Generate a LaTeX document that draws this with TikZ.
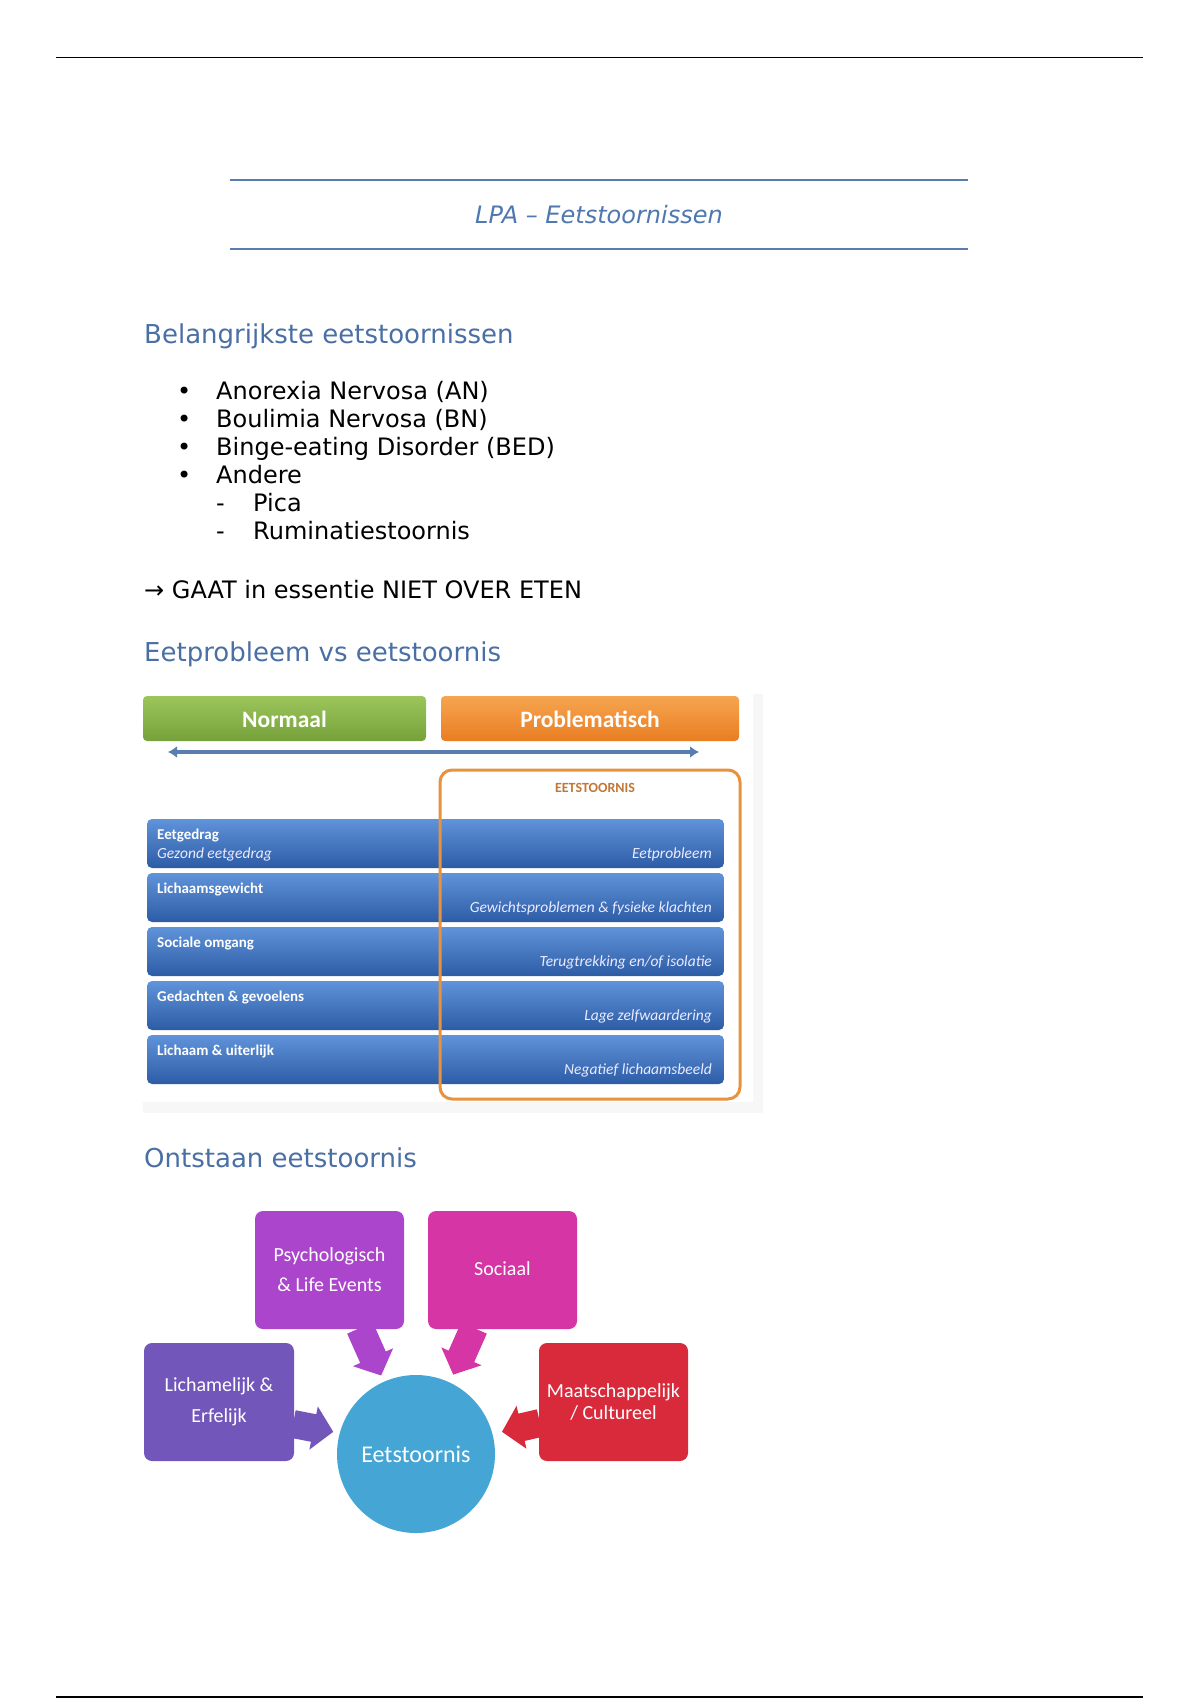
\documentclass[tikz,border=0pt]{standalone}
\usepackage{fontspec}
\setmainfont{DejaVu Sans}
\newfontfamily\calfont{Carlito}
\usetikzlibrary{arrows.meta}
\definecolor{hblue}{HTML}{4A6FA5}
\definecolor{tblue}{HTML}{4F78B0}
\definecolor{lineblue}{HTML}{5A7DAF}
\definecolor{grtop}{HTML}{9CC65C}
\definecolor{grbot}{HTML}{76A13A}
\definecolor{ortop}{HTML}{F6A550}
\definecolor{orbot}{HTML}{E97D22}
\definecolor{bartop}{HTML}{5F93DA}
\definecolor{barbot}{HTML}{2D5CA5}
\definecolor{orframe}{HTML}{E8923E}
\definecolor{eetlbl}{HTML}{C07838}
\definecolor{psych}{HTML}{AB45CC}
\definecolor{soc}{HTML}{D535A5}
\definecolor{lich}{HTML}{7356BA}
\definecolor{maat}{HTML}{D82A3A}
\definecolor{circ}{HTML}{45A6D6}
\newcommand\fatarr[4]{%
  \begin{scope}[shift={#1},rotate=#2]
    \fill[#4] (0,-14) -- (#3-20,-14) -- (#3-20,-22) -- (#3,0) -- (#3-20,22) -- (#3-20,14) -- (0,14) -- cycle;
  \end{scope}}
\tikzset{
  body/.style={anchor=base west,inner sep=0,font=\fontsize{24pt}{28pt}\selectfont},
  head/.style={anchor=base west,inner sep=0,text=hblue,font=\fontsize{26pt}{30pt}\selectfont},
  bartext/.style={inner sep=0,text=white,font=\calfont\bfseries\fontsize{15pt}{17pt}\selectfont},
  barright/.style={anchor=base east,inner sep=0,text=white!92!blue,font=\calfont\itshape\fontsize{15.5pt}{17pt}\selectfont},
  catbox/.style={rounded corners=8pt,inner sep=0,text=white,align=center,font=\calfont\fontsize{20pt}{30pt}\selectfont}
}
\begin{document}
\begin{tikzpicture}[x=1pt,y=-1pt]
\useasboundingbox (0,0) rectangle (1200,1700);
\fill[white] (0,0) rectangle (1200,1700);
% page rules
\coordinate (tl) at (56,57.5); \coordinate (tr) at (1143,57.5);
\draw[line width=1.5pt,black] (tl) -- (tr);
\coordinate (bl) at (56,1697); \coordinate (br) at (1143,1697);
\draw[line width=1.5pt,black] (bl) -- (br);
% title
\coordinate (t1a) at (230,180); \coordinate (t1b) at (968,180);
\coordinate (t2a) at (230,249); \coordinate (t2b) at (968,249);
\draw[line width=1.6pt,lineblue] (t1a) -- (t1b);
\draw[line width=1.6pt,lineblue] (t2a) -- (t2b);
\node[anchor=base,inner sep=0,text=tblue,font=\itshape\fontsize{24pt}{28pt}\selectfont] (title) at (599,223) {LPA – Eetstoornissen};
% section 1
\node[head] (h1) at (144,343) {Belangrijkste eetstoornissen};
\node[body] (b1) at (177,399) {•}; \node[body] (l1) at (216,399) {Anorexia Nervosa (AN)};
\node[body] (b2) at (177,427) {•}; \node[body] (l2) at (216,427) {Boulimia Nervosa (BN)};
\node[body] (b3) at (177,455) {•}; \node[body] (l3) at (216,455) {Binge-eating Disorder (BED)};
\node[body] (b4) at (177,483) {•}; \node[body] (l4) at (216,483) {Andere};
\node[body] (d1) at (216,511) {-}; \node[body] (l5) at (253,511) {Pica};
\node[body] (d2) at (216,539) {-}; \node[body] (l6) at (253,539) {Ruminatiestoornis};
\node[body] (gaat) at (144,598) {→ GAAT in essentie NIET OVER ETEN};
% section 2
\node[head] (h2) at (144,661) {Eetprobleem vs eetstoornis};
\fill[black!3] (143,694) rectangle (763,1113);
\fill[white] (143,694) rectangle (753,1102);
\shade[rounded corners=4pt,top color=grtop,bottom color=grbot] (143,696) rectangle (426,741);
\node[inner sep=0,text=white,font=\calfont\bfseries\fontsize{23.5pt}{26pt}\selectfont] (norm) at (284.5,719) {Normaal};
\shade[rounded corners=4pt,top color=ortop,bottom color=orbot] (441,696) rectangle (739,741);
\node[inner sep=0,text=white,font=\calfont\bfseries\fontsize{23.5pt}{26pt}\selectfont] (prob) at (590,719) {Problematisch};
\coordinate (al) at (168,752); \coordinate (ar) at (699,752);
\draw[line width=3.5pt,lineblue,{Latex[length=9pt,width=12pt]}-{Latex[length=9pt,width=12pt]}] (al) -- (ar);
\foreach \t/\a/\b in {819/{Eetgedrag}/{Eetprobleem},873/{Lichaamsgewicht}/{Gewichtsproblemen \& fysieke klachten},927/{Sociale omgang}/{Terugtrekking en/of isolatie},981/{Gedachten \& gevoelens}/{Lage zelfwaardering},1035/{Lichaam \& uiterlijk}/{Negatief lichaamsbeeld}}{
  \shade[rounded corners=5pt,top color=bartop,bottom color=barbot] (147,\t) rectangle (724,\t+49);
  \node[bartext,anchor=base west] at (157,\t+20) {\a};
  \node[barright] at (712,\t+39) {\b};
}
\node[barright,anchor=base west] (gez) at (157,858) {Gezond eetgedrag};
\draw[line width=3pt,orframe,rounded corners=12pt] (440,770) rectangle (740,1099);
\node[inner sep=0,text=eetlbl,font=\calfont\bfseries\fontsize{14pt}{16pt}\selectfont] (eet) at (595,788) {EETSTOORNIS};
% section 3
\node[head] (h3) at (144,1167) {Ontstaan eetstoornis};
\node[catbox,fill=psych,minimum width=149pt,minimum height=118pt] (ps) at (329.5,1270) {Psychologisch\\\& Life Events};
\node[catbox,fill=soc,minimum width=149pt,minimum height=118pt] (so) at (502.5,1270) {\raisebox{2pt}{Sociaal}};
\node[catbox,fill=lich,minimum width=150pt,minimum height=118pt,font=\calfont\fontsize{20pt}{31pt}\selectfont] (li) at (219,1402) {Lichamelijk \&\\Erfelijk};
\node[catbox,fill=maat,minimum width=149pt,minimum height=118pt,font=\calfont\fontsize{20pt}{22pt}\selectfont] (ma) at (613.5,1402) {Maatschappelijk\\/ Cultureel};
\node[circle,fill=circ,minimum size=158pt,inner sep=0,text=white,font=\calfont\fontsize{24pt}{28pt}\selectfont] (ee) at (416,1454) {Eetstoornis};
\fatarr{(360,1328)}{-66}{52}{psych}
\fatarr{(474,1328)}{-114}{51}{soc}
\fatarr{(293,1424)}{-11}{41}{lich}
\fatarr{(540,1423)}{193}{39}{maat}
\end{tikzpicture}
\end{document}
